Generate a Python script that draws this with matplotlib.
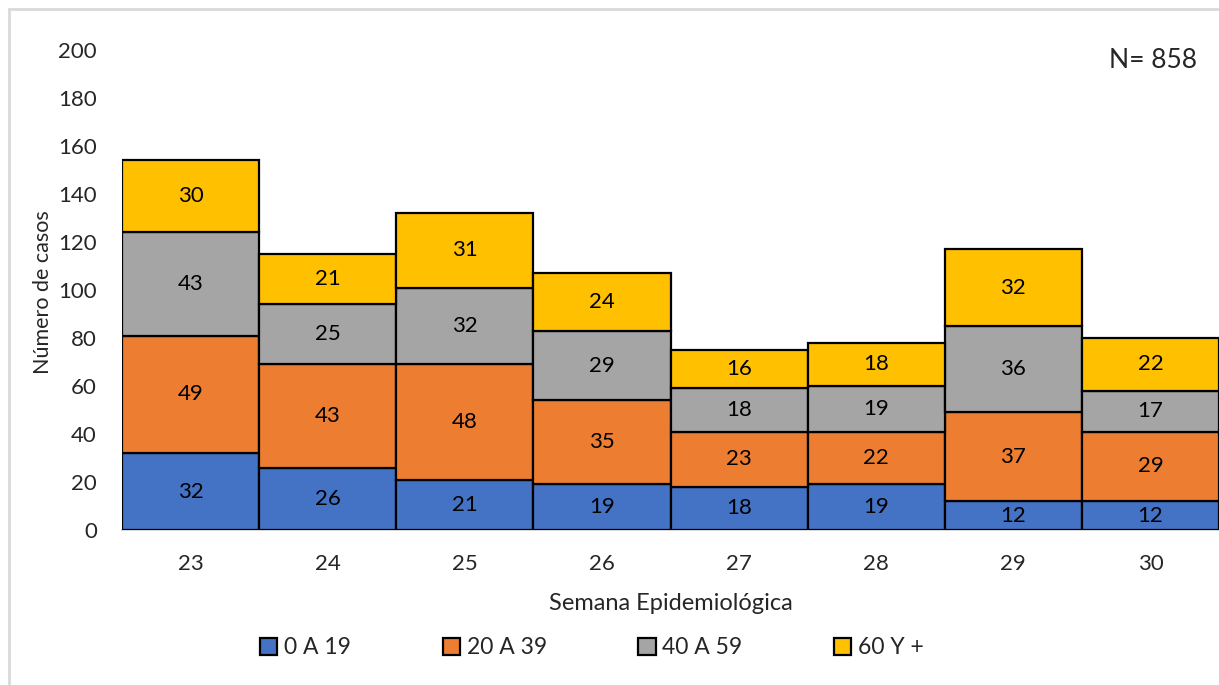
import matplotlib
matplotlib.use("Agg")
import matplotlib.pyplot as plt
from matplotlib.patches import Rectangle
import numpy as np

# Casos por semana epidemiológica y grupo de edad
semanas = ["23", "24", "25", "26", "27", "28", "29", "30"]
grupos = ["0 A 19", "20 A 39", "40 A 59", "60 Y +"]
g0_19 = [32, 26, 21, 19, 18, 19, 12, 12]
g20_39 = [49, 43, 48, 35, 23, 22, 37, 29]
g40_59 = [43, 25, 32, 29, 18, 19, 36, 17]
g60 = [30, 21, 31, 24, 16, 18, 32, 22]
colores = ["#4472C4", "#ED7D31", "#A5A5A5", "#FFC000"]

plt.rcParams["font.family"] = ["Lato", "DejaVu Sans"]
W, H = 1219, 685
fig = plt.figure(figsize=(W / 100, H / 100), dpi=100)
ax = fig.add_axes([122 / W, (H - 530) / H, (W - 122) / W, 480 / H])

# light gray chart-area border (cropped on right/bottom)
fig.patches.append(Rectangle((9 / W, -0.1), 1.2, (H - 9) / H + 0.1, transform=fig.transFigure,
                             fill=False, edgecolor="#D9D9D9", linewidth=2, zorder=0))

x = np.arange(len(semanas))
bottom = np.zeros(len(semanas))
for lab, vals, col in zip(grupos, [g0_19, g20_39, g40_59, g60], colores):
    vals = np.array(vals)
    ax.bar(x, vals, width=1.0, bottom=bottom, color=col, edgecolor="black",
           linewidth=1.6, label=lab, zorder=3)
    for xi, b, v in zip(x, bottom, vals):
        ax.text(xi, b + v / 2, str(v), ha="center", va="center", fontsize=16,
                color="black", zorder=4)
    bottom += vals

ax.set_xlim(-0.5, 7.5)
ax.set_ylim(0, 200)
ax.set_yticks(range(0, 201, 20))
ax.set_xticks(x)
ax.set_xticklabels(semanas)
ax.tick_params(axis="both", length=0, labelsize=16, colors="#262626")
ax.tick_params(axis="y", pad=18)
ax.tick_params(axis="x", pad=17)
for s in ["top", "right", "left"]:
    ax.spines[s].set_visible(False)
ax.spines["bottom"].set_color("#D9D9D9")
ax.spines["bottom"].set_linewidth(1.5)

ax.set_xlabel("Semana Epidemiológica", fontsize=17, color="#262626", labelpad=14)
fig.text(43 / W, 1 - 292 / H, "Número de casos", rotation=90, ha="center", va="center",
         fontsize=15.5, color="#262626")
fig.text(1197 / W, 1 - 60 / H, "N= 858", ha="right", va="center", fontsize=19, color="#262626")

leg = fig.legend(loc="center", bbox_to_anchor=(592 / W, 1 - 648 / H), ncol=4, frameon=False,
                 fontsize=16.5, handlelength=0.75, handleheight=0.75, handletextpad=0.3,
                 columnspacing=4.0)
for t in leg.get_texts():
    t.set_color("#262626")

fig.savefig("out.png", dpi=100)
